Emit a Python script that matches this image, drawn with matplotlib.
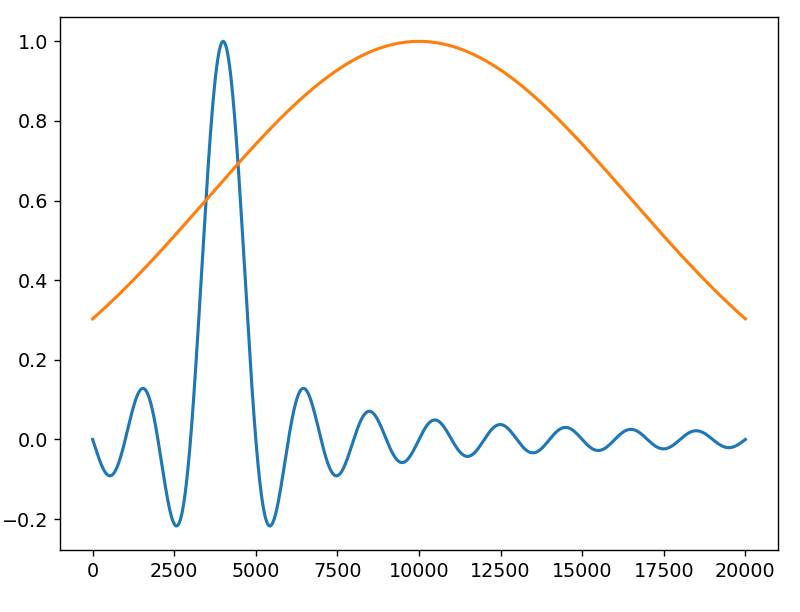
import numpy as np
import matplotlib
matplotlib.use("Agg")
import matplotlib.pyplot as plt

# Values
x_start, x_end, n_points = 0, 20000, 2001
sinc_center, sinc_zero_spacing = 4000, 1000     # blue: main peak and zero spacing
gauss_center, gauss_end_value = 10000, 0.303    # orange: peak position and value at ends

x = np.linspace(x_start, x_end, n_points)
blue = np.sinc((x - sinc_center) / sinc_zero_spacing)
sigma = (gauss_center - x_start) / np.sqrt(-2 * np.log(gauss_end_value))
orange = np.exp(-((x - gauss_center) ** 2) / (2 * sigma ** 2))

fig = plt.figure(figsize=(6.4, 4.896), dpi=125)
ax = fig.add_axes([0.075, 0.101, 0.8975, 0.871])
ax.plot(x, blue, lw=1.8)
ax.plot(x, orange, lw=1.8)
ax.tick_params(labelsize=11)
fig.savefig("out.png")
